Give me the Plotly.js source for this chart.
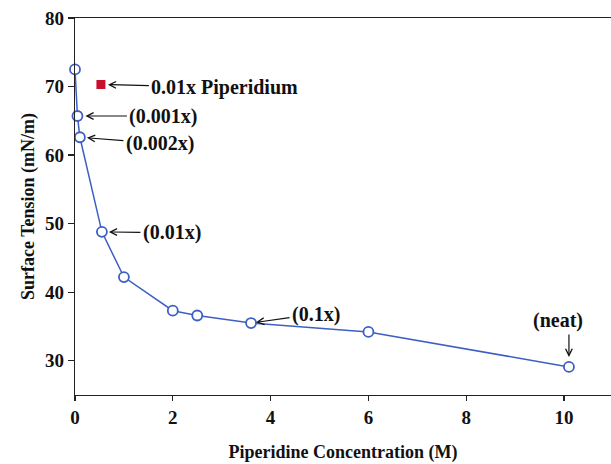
<!DOCTYPE html>
<html>
<head>
<meta charset="utf-8">
<script src="https://cdn.plot.ly/plotly-3.0.1.min.js"></script>
<style>html,body{margin:0;padding:0;background:#fff;}#chart{width:611px;height:464px;}</style>
</head>
<body>
<div id="chart"></div>
<script>
// Data
const concentration = [0, 0.05, 0.1, 0.55, 1.0, 2.0, 2.5, 3.6, 6.0, 10.1];
const surfaceTension = [72.5, 65.7, 62.6, 48.8, 42.2, 37.3, 36.6, 35.5, 34.2, 29.1];
const piperidiumX = [0.53];
const piperidiumY = [70.3];
const xTicks = [0, 2, 4, 6, 8, 10];
const yTicks = [30, 40, 50, 60, 70, 80];

const font = "Liberation Serif, Times New Roman, serif";
const blue = "#3d5fc4";

const traces = [
  {
    x: concentration, y: surfaceTension, type: "scatter", mode: "lines+markers",
    line: {color: blue, width: 1.5},
    marker: {symbol: "circle", size: 10, color: "#ffffff", line: {color: blue, width: 1.8}},
    cliponaxis: false, hoverinfo: "none"
  },
  {
    x: piperidiumX, y: piperidiumY, type: "scatter", mode: "markers",
    marker: {symbol: "square", size: 9, color: "#c8102e"},
    cliponaxis: false, hoverinfo: "none"
  }
];

const annFont = {family: font, size: 20, color: "#111"};
function arrowAnn(x, y, text, ax, ay, standoff) {
  return {x: x, y: y, xref: "x", yref: "y", text: "<b>" + text + "</b>", showarrow: true,
    ax: ax, ay: ay, arrowhead: 5, arrowsize: 1.1, arrowwidth: 1.2, arrowcolor: "#111",
    standoff: standoff, font: annFont, borderpad: 2};
}

const annotations = [
  arrowAnn(piperidiumX[0], piperidiumY[0], "0.01x Piperidium", 124, 3, 7),
  arrowAnn(concentration[1], surfaceTension[1], "(0.001x)", 86, 0, 8),
  arrowAnn(concentration[2], surfaceTension[2], "(0.002x)", 80, 6, 7),
  arrowAnn(concentration[3], surfaceTension[3], "(0.01x)", 70, 1, 7),
  arrowAnn(concentration[7], surfaceTension[7], "(0.1x)", 65, -9, 5),
  {x: concentration[9], y: surfaceTension[9], xref: "x", yref: "y", text: "", showarrow: true,
    ax: 0, ay: -34, arrowhead: 5, arrowsize: 1.1, arrowwidth: 1.2, arrowcolor: "#111", standoff: 10},
  {x: concentration[9], y: surfaceTension[9], xref: "x", yref: "y", text: "<b>(neat)</b>",
    showarrow: false, xshift: -11, yshift: 46, font: annFont}
];

const layout = {
  width: 611, height: 464,
  margin: {l: 75, r: 0, t: 18, b: 69},
  paper_bgcolor: "#fff", plot_bgcolor: "#fff",
  showlegend: false,
  font: {family: font, color: "#111"},
  xaxis: {
    range: [0, 10.96], tickvals: xTicks, ticktext: xTicks.map(v => "<b>" + v + "</b>"),
    showgrid: false, zeroline: false, showline: true, linecolor: "#222", linewidth: 1.3,
    mirror: true, ticks: "outside", ticklen: 5, tickwidth: 1.3, tickcolor: "#222",
    tickfont: {family: font, size: 19, color: "#111"},
    title: {text: "<b>Piperidine Concentration (M)</b>", font: {family: font, size: 18, color: "#111"}, standoff: 18}
  },
  yaxis: {
    range: [25, 80], tickvals: yTicks, ticktext: yTicks.map(v => "<b>" + v + "</b>"),
    showgrid: false, zeroline: false, showline: true, linecolor: "#222", linewidth: 1.3,
    ticks: "outside", ticklen: 6, tickwidth: 1.3, tickcolor: "#222",
    tickfont: {family: font, size: 19, color: "#111"},
    title: {text: "<b>Surface Tension (mN/m)</b>", font: {family: font, size: 18, color: "#111"}, standoff: 5}
  },
  annotations: annotations
};

Plotly.newPlot("chart", traces, layout, {displayModeBar: false, staticPlot: true});
</script>
</body>
</html>
